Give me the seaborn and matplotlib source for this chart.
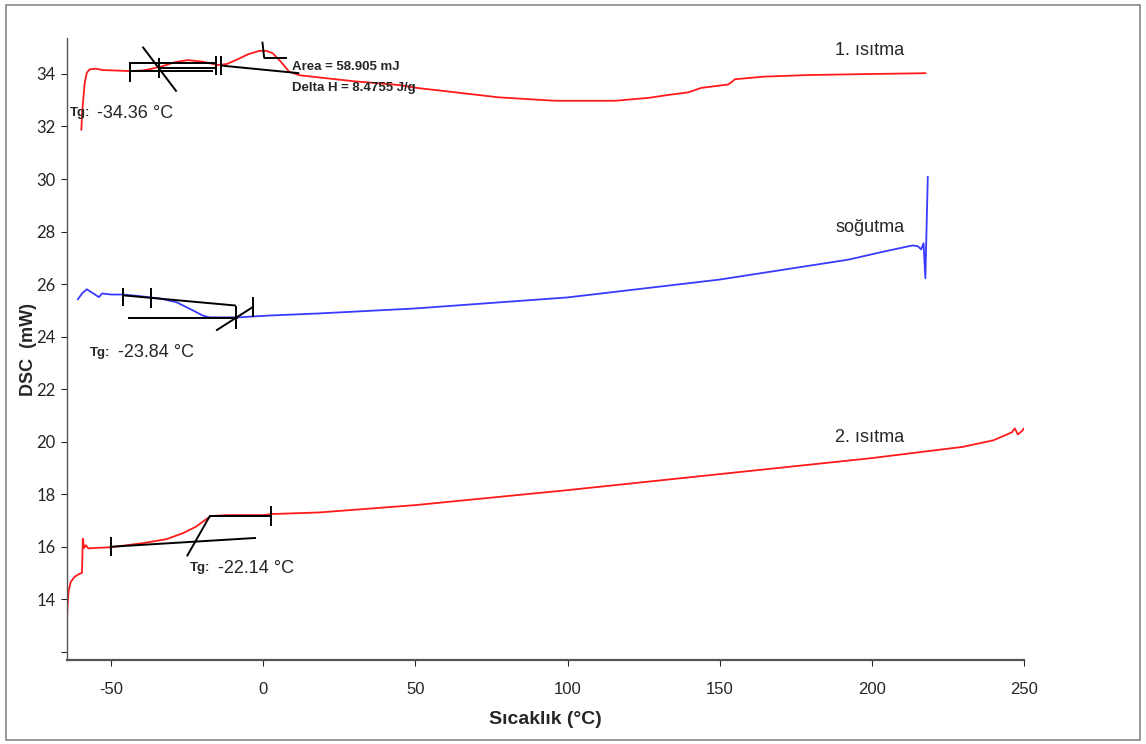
import numpy as np
import pandas as pd
import matplotlib
matplotlib.use("Agg")
import matplotlib.pyplot as plt
import seaborn as sns
from matplotlib.patches import Rectangle

# --- curve data (temperature in degC, DSC in mW) ---
heat1_t = [-59.8, -59.5, -58.7, -58.0, -57.0, -55.0, -52.7, -48.0, -43.9, -40.0, -37.4,
           -33.0, -29.0, -24.8, -20.0, -15.0, -12.0, -9.0, -5.0, -1.3, 1.0, 3.1, 5.5,
           8.5, 12.0, 20.6, 30.0, 44.6, 51.1, 61.0, 77.4, 96.0, 115.6, 126.6, 133.0,
           139.7, 143.9, 152.8, 154.0, 155.0, 164.8, 179.0, 200.0, 217.7]
heat1_q = [31.87, 32.6, 33.65, 34.05, 34.18, 34.2, 34.15, 34.13, 34.11, 34.13, 34.18,
           34.3, 34.45, 34.53, 34.47, 34.34, 34.38, 34.53, 34.75, 34.88, 34.88, 34.79, 34.5,
           34.09, 33.95, 33.84, 33.72, 33.58, 33.46, 33.33, 33.11, 32.98, 32.98, 33.09, 33.2,
           33.3, 33.47, 33.6, 33.7, 33.8, 33.9, 33.96, 34.0, 34.03]

cool_t = [-61.0, -59.5, -58.0, -56.0, -54.0, -53.0, -50.0, -46.0, -40.0, -36.4, -34.1,
          -28.6, -23.2, -19.9, -17.7, -8.4, 2.0, 18.4, 50.0, 100.0, 150.0, 192.4, 203.3,
          213.4, 215.1, 216.2, 217.0, 217.6, 218.0, 218.4]
cool_q = [25.41, 25.65, 25.8, 25.65, 25.5, 25.64, 25.6, 25.6, 25.53, 25.48, 25.45,
          25.31, 25.0, 24.8, 24.73, 24.73, 24.8, 24.88, 25.07, 25.49, 26.17, 26.93, 27.22,
          27.47, 27.44, 27.32, 27.55, 26.22, 28.18, 30.09]

heat2_t = [-64.6, -64.4, -64.0, -63.3, -62.0, -60.6, -59.6, -59.3, -58.9, -58.3, -57.5,
           -55.0, -50.5, -45.0, -39.6, -31.9, -26.4, -22.1, -18.8, -17.2, -12.0, -6.9,
           0.0, 3.0, 18.4, 50.0, 100.0, 150.0, 200.0, 230.0, 240.0, 246.0, 247.0, 248.0,
           249.5, 250.0]
heat2_q = [12.75, 13.6, 14.3, 14.65, 14.85, 14.95, 15.0, 16.3, 15.95, 16.05, 15.93,
           15.95, 15.97, 16.05, 16.13, 16.28, 16.51, 16.76, 17.04, 17.16, 17.2, 17.2,
           17.2, 17.24, 17.3, 17.58, 18.15, 18.76, 19.37, 19.8, 20.05, 20.35, 20.5, 20.27,
           20.42, 20.5]

# --- Tg construction lines (each: x list, y list) ---
tg1_lines = [
    ([-43.9, -15.1], [34.41, 34.41]),
    ([-43.9, -16.4], [34.13, 34.13]),
    ([-34.4, -15.1], [34.22, 34.22]),
    ([-43.9, -43.9], [34.47, 33.71]),
    ([-34.4, -34.4], [34.6, 33.84]),
    ([-15.4, -15.4], [34.69, 33.96]),
    ([-13.8, -13.8], [34.69, 33.96]),
    ([-39.7, -28.5], [35.04, 33.33]),
    ([-13.8, 11.8], [34.32, 34.03]),
    ([-0.3, 0.3], [35.23, 34.6]),
    ([0.3, 7.9], [34.62, 34.62]),
]
tg2_lines = [
    ([-46.1, -9.0], [25.57, 25.18]),
    ([-44.5, -8.4], [24.70, 24.70]),
    ([-15.5, -3.5], [24.23, 25.12]),
    ([-46.1, -46.1], [25.83, 25.18]),
    ([-36.8, -36.8], [25.83, 25.10]),
    ([-9.0, -9.0], [25.18, 24.30]),
    ([-3.4, -3.4], [25.52, 24.73]),
]
tg3_lines = [
    ([-50.5, -2.4], [15.99, 16.33]),
    ([-17.7, 2.5], [17.16, 17.16]),
    ([-25.1, -17.7], [15.63, 17.14]),
    ([-50.2, -50.2], [16.38, 15.63]),
    ([2.6, 2.6], [17.54, 16.78]),
]

y_ticks = [12, 14, 16, 18, 20, 22, 24, 26, 28, 30, 32, 34]
y_labels = ["", "14", "16", "18", "20", "22", "24", "26", "28", "30", "32", "34"]
x_ticks = [-50, 0, 50, 100, 150, 200, 250]

sns.set_style("ticks")
plt.rcParams['font.family'] = ['Liberation Sans', 'DejaVu Sans']
plt.rcParams['axes.unicode_minus'] = False
narrow = ['Liberation Sans Narrow', 'Liberation Sans', 'DejaVu Sans']

fig = plt.figure(figsize=(11.46, 7.44), dpi=100)
ax = fig.add_axes([0.0585, 0.1129, 0.835, 0.836])

frames = [
    pd.DataFrame({"T": heat1_t, "DSC": heat1_q, "run": "1. ısıtma"}),
    pd.DataFrame({"T": cool_t, "DSC": cool_q, "run": "soğutma"}),
    pd.DataFrame({"T": heat2_t, "DSC": heat2_q, "run": "2. ısıtma"}),
]
colors = ["#ff1a1a", "#3a3aff", "#ff1a1a"]
for df, c in zip(frames, colors):
    sns.lineplot(data=df, x="T", y="DSC", sort=False, estimator=None,
                 color=c, linewidth=1.3, ax=ax, legend=False)

for lines in (tg1_lines, tg2_lines, tg3_lines):
    for xs, ys in lines:
        ax.plot(xs, ys, color="black", linewidth=1.4, solid_capstyle="butt")

ax.set_xlim(-64.5, 250)
ax.set_ylim(11.68, 35.37)
ax.set_xticks(x_ticks)
ax.set_xticklabels([str(v) for v in x_ticks], fontfamily=narrow, fontsize=12)
ax.set_yticks(y_ticks)
ax.set_yticklabels(y_labels, fontfamily="Lato", fontsize=12)
ax.tick_params(axis="x", length=4, width=0.8, pad=12)
ax.tick_params(axis="y", length=4, width=0.8, pad=4)
sns.despine(ax=ax)
for s in ("left", "bottom"):
    ax.spines[s].set_color("#555555")
    ax.spines[s].set_linewidth(1.0)
ax.spines["bottom"].set_linewidth(1.6)

ax.set_xlabel("Sıcaklık (°C)", fontsize=14, fontweight="bold", labelpad=10,
              fontfamily=narrow)
ax.set_ylabel("DSC  (mW)", fontsize=13, fontweight="bold", labelpad=0)

# curve names
ax.text(188, 34.91, "1. ısıtma", fontsize=13, va="center", fontfamily=narrow)
ax.text(188, 28.15, "soğutma", fontsize=13, va="center", fontfamily=narrow)
ax.text(188, 20.15, "2. ısıtma", fontsize=13, va="center", fontfamily=narrow)

# Tg / enthalpy annotations
ax.text(9.5, 34.27, "Area = 58.905 mJ", fontsize=9.5, fontweight="bold", va="center",
        fontfamily=narrow)
ax.text(9.5, 33.47, "Delta H = 8.4755 J/g", fontsize=9.5, fontweight="bold", va="center",
        fontfamily=narrow)
for (xt, xv, yv, val) in [(-63.5, -54.6, 32.51, "-34.36 °C"),
                          (-56.9, -47.7, 23.39, "-23.84 °C"),
                          (-24.0, -14.8, 15.18, "-22.14 °C")]:
    ax.text(xt, yv, "Tg:", fontsize=9.5, fontweight="bold", va="center", fontfamily=narrow)
    ax.text(xv, yv, val, fontsize=13, va="center", fontfamily=narrow)

# outer frame of the figure
fig.patches.append(Rectangle((0.005, 0.006), 0.99, 0.987, transform=fig.transFigure,
                             fill=False, edgecolor="#888888", linewidth=1.2))

fig.savefig("out.png", dpi=100)
